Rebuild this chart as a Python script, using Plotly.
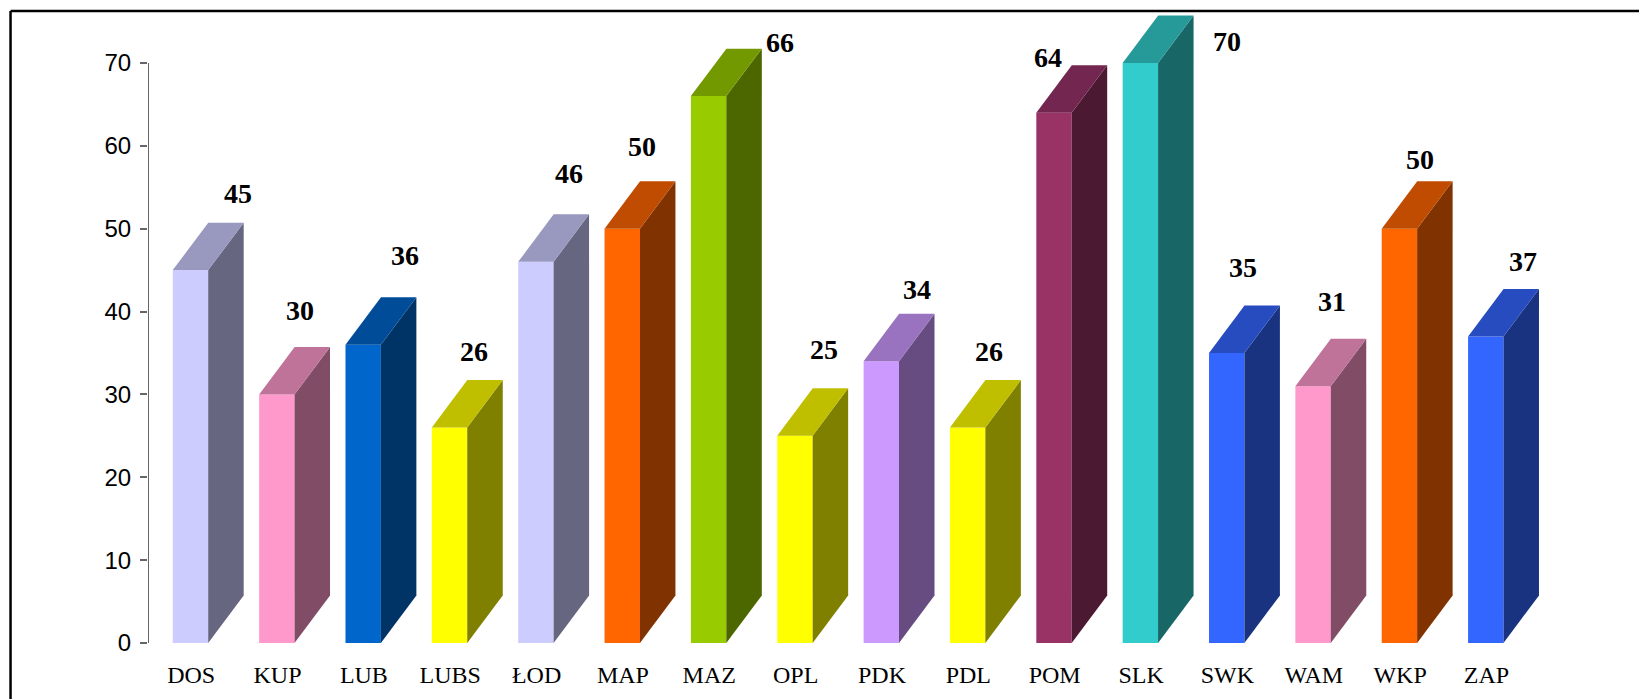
import plotly.graph_objects as go

categories = ["DOS", "KUP", "LUB", "LUBS", "ŁOD", "MAP", "MAZ", "OPL", "PDK", "PDL", "POM", "SLK", "SWK", "WAM", "WKP", "ZAP"]
values = [45, 30, 36, 26, 46, 50, 66, 25, 34, 26, 64, 70, 35, 31, 50, 37]
front_colors = ["#CCCCFF", "#FF99CC", "#0066CC", "#FFFF00", "#CCCCFF", "#FF6600", "#99CC00", "#FFFF00",
                "#CC99FF", "#FFFF00", "#993366", "#33CCCC", "#3366FF", "#FF99CC", "#FF6600", "#3366FF"]
side_colors = ["#666680", "#804C66", "#003366", "#808000", "#666680", "#803300", "#4C6600", "#808000",
               "#664C80", "#808000", "#4C1933", "#196666", "#193380", "#804C66", "#803300", "#193380"]
top_colors = ["#9999BF", "#BF7399", "#004C99", "#BFBF00", "#9999BF", "#BF4C00", "#739900", "#BFBF00",
              "#9973BF", "#BFBF00", "#732650", "#269999", "#264CBF", "#BF7399", "#BF4C00", "#264CBF"]
y_ticks = [0, 10, 20, 30, 40, 50, 60, 70]
label_dx = [47, 22, 41, 24, 32, 19, 71, 28, 35, 21, -6.5, 86, 16, 18, 20, 36.5]
label_dy = [77, 83.5, 89.5, 75.7, 88.6, 81.7, 54, 86, 71.4, 75.7, 55, 21, 85, 84.6, 69, 74.8]

BAR_W = 0.41
BAR_SHIFT = -0.008
DEPTH_X = 0.411
DEPTH_Y = 5.73
xs = list(range(len(categories)))

fig = go.Figure()
fig.add_trace(go.Bar(x=[i + BAR_SHIFT for i in xs], y=values, width=BAR_W,
                     marker=dict(color=front_colors, line=dict(width=0)),
                     showlegend=False, hoverinfo="y"))

for i, v in zip(xs, values):
    r = i + BAR_SHIFT + BAR_W / 2
    l = i + BAR_SHIFT - BAR_W / 2
    fig.add_trace(go.Scatter(x=[r, r + DEPTH_X, r + DEPTH_X, r, r], y=[0, DEPTH_Y, v + DEPTH_Y, v, 0],
                             mode="lines", fill="toself", fillcolor=side_colors[i], line=dict(width=0),
                             showlegend=False, hoverinfo="skip"))
    fig.add_trace(go.Scatter(x=[l, l + DEPTH_X, r + DEPTH_X, r, l], y=[v, v + DEPTH_Y, v + DEPTH_Y, v, v],
                             mode="lines", fill="toself", fillcolor=top_colors[i], line=dict(width=0),
                             showlegend=False, hoverinfo="skip"))

annotations = [dict(x=i, y=v, xref="x", yref="y", text=f"<b>{v}</b>", showarrow=False,
                    xshift=label_dx[i], yshift=label_dy[i], xanchor="center", yanchor="middle",
                    font=dict(family="Liberation Serif", size=28, color="#000000"))
               for i, v in zip(xs, values)]

TOP = 1.0032
LEFT = -0.09364
shapes = [
    dict(type="line", xref="paper", yref="paper", x0=LEFT, x1=1.0209, y0=TOP, y1=TOP, line=dict(color="#000000", width=2.5)),
    dict(type="line", xref="paper", yref="paper", x0=LEFT, x1=LEFT, y0=TOP, y1=-0.0889, line=dict(color="#000000", width=2.5)),
    dict(type="line", xref="x", yref="y", x0=-0.5, x1=-0.5, y0=0, y1=70, line=dict(color="#666666", width=2)),
]

fig.update_layout(
    width=1639, height=691, autosize=False,
    margin=dict(l=140, r=30.6, t=5, b=56, pad=0),
    paper_bgcolor="#FFFFFF", plot_bgcolor="#FFFFFF",
    annotations=annotations, shapes=shapes,
    xaxis=dict(range=[-0.5, 16.5], tickmode="array", tickvals=xs, ticktext=categories, ticks="",
               showgrid=False, zeroline=False, showline=False, ticklabelstandoff=15,
               tickfont=dict(family="Liberation Serif", size=24, color="#000000")),
    yaxis=dict(range=[0, 76.03], tickmode="array", tickvals=y_ticks, ticks="outside", ticklen=7, tickwidth=2,
               tickcolor="#666666", showgrid=False, zeroline=False, showline=False, ticklabelstandoff=4,
               tickfont=dict(family="Liberation Sans", size=24, color="#000000")),
)

fig.write_html("out.html")
